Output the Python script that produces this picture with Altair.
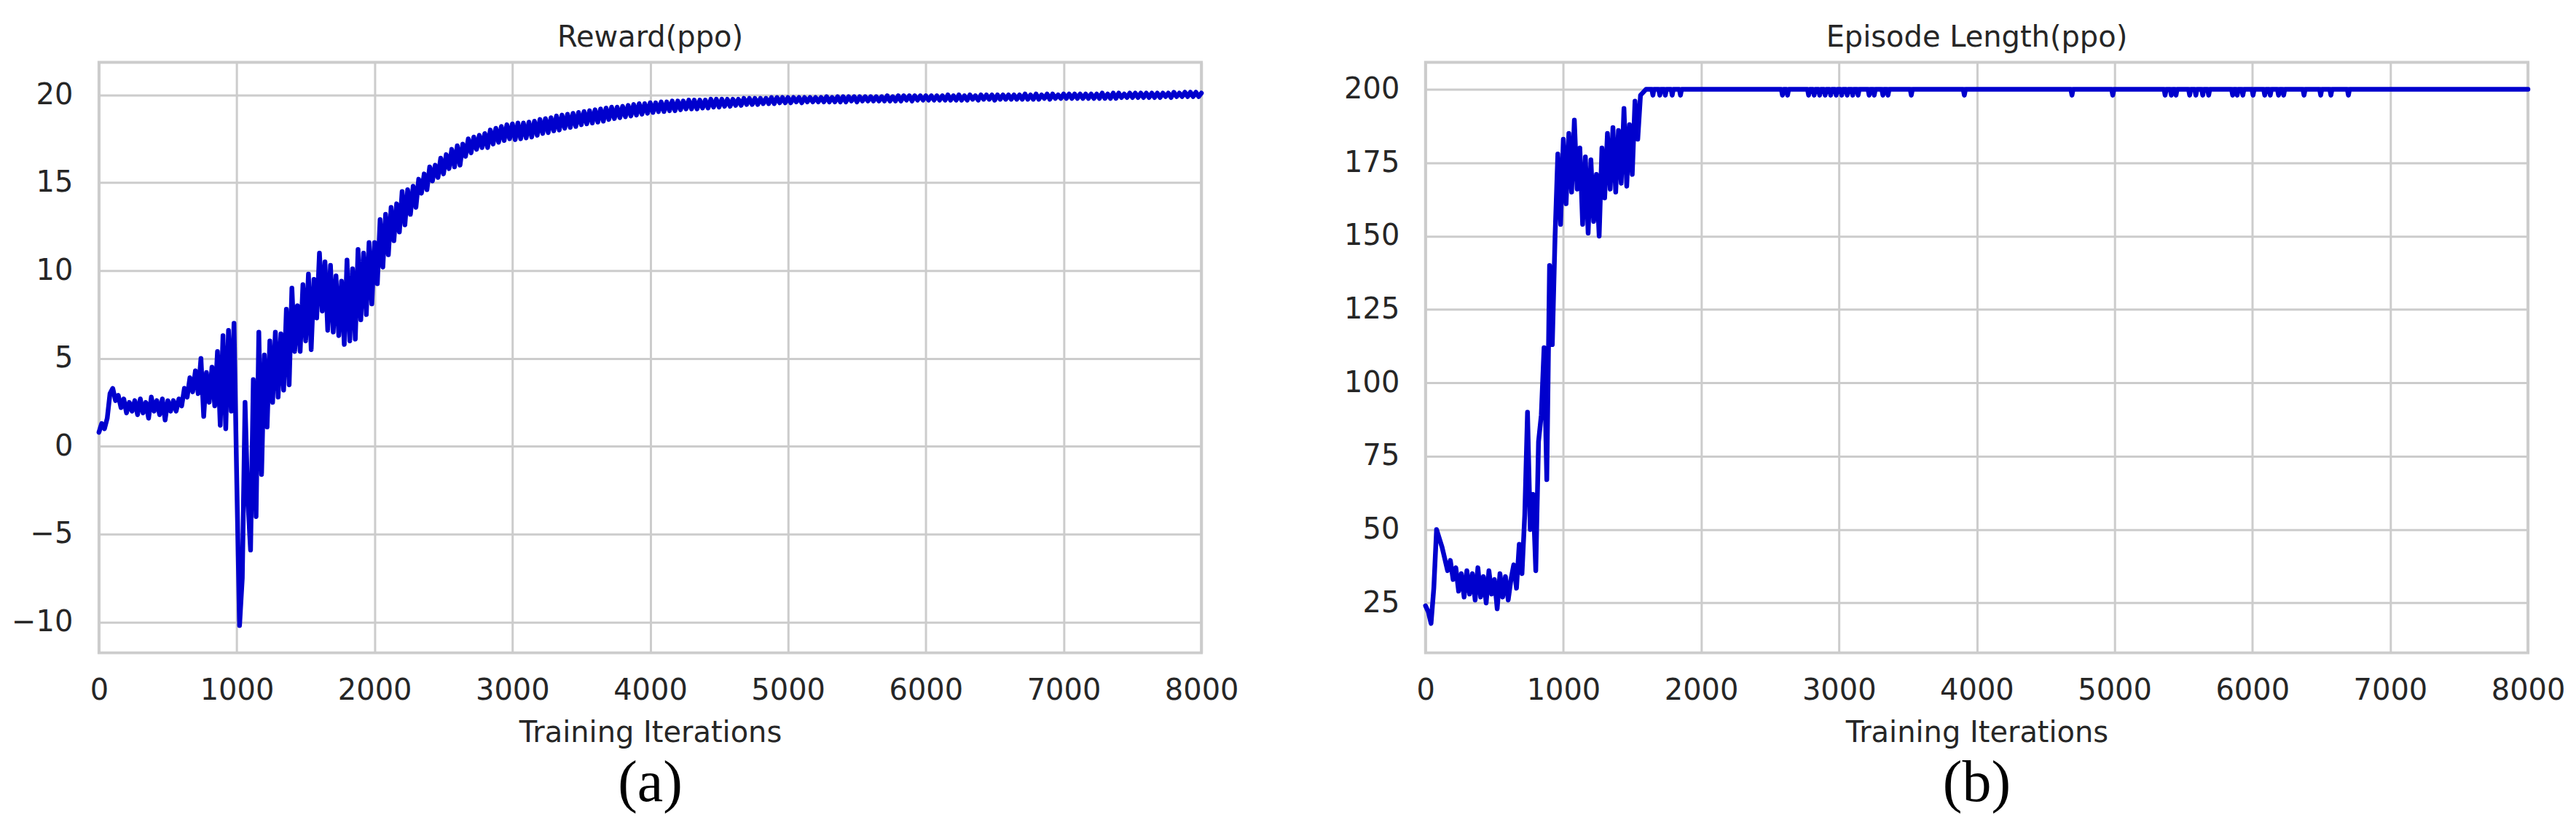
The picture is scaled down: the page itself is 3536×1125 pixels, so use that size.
import altair as alt
import pandas as pd

# ---------------- data ----------------
x_ticks = [0, 1000, 2000, 3000, 4000, 5000, 6000, 7000, 8000]

# Reward(ppo): every 20 iterations from 0 to 2980
reward_early_step = 20
reward_early = [
    0.8, 1.3, 1.0, 1.6, 3.0, 3.3, 2.6, 2.9, 2.2, 2.7,
    1.9, 2.5, 2.0, 2.6, 1.8, 2.7, 1.9, 2.5, 1.6, 2.8,
    2.0, 2.6, 1.8, 2.7, 1.5, 2.6, 2.0, 2.6, 2.0, 2.7,
    2.3, 3.3, 2.8, 3.9, 3.1, 4.3, 3.0, 5.0, 1.7, 4.2,
    2.5, 4.5, 2.3, 5.4, 1.2, 6.3, 1.0, 6.6, 2.0, 7.0,
    -2.0, -10.2, -7.5, 2.5, -3.0, -5.9, 3.8, -4.0, 6.5, -1.6,
    5.2, 1.1, 6.0, 2.5, 6.5, 2.8, 6.4, 3.2, 7.8, 3.5,
    9.0, 5.4, 8.0, 5.4, 9.2, 6.0, 9.8, 5.5, 9.5, 7.3,
    11.0, 7.7, 10.5, 6.6, 10.3, 6.5, 9.7, 6.3, 9.4, 5.8,
    10.6, 6.0, 10.1, 6.1, 11.2, 7.2, 11.0, 7.5, 11.6, 8.1,
    11.6, 9.25, 12.9, 10.2, 13.2, 10.9, 13.6, 11.7, 13.8, 12.2,
    14.5, 12.6, 14.6, 13.2, 14.8, 13.6, 15.2, 14.4, 15.5, 14.6,
    15.9, 15.1, 16.0, 15.3, 16.4, 15.5, 16.6, 15.8, 16.9, 15.9,
    17.1, 16.0, 17.2, 16.5, 17.5, 16.7, 17.6, 16.9, 17.7, 17.0,
    17.8, 17.0, 18.0, 17.2, 18.1, 17.3, 18.2, 17.4, 18.3, 17.5,
]
# Reward(ppo): every 20 iterations from 3000 to 8000
reward_late_start = 3000
reward_late_step = 20
reward_late = [
    18.35, 17.45, 18.4, 17.5, 18.4, 17.55, 18.45, 17.6, 18.5, 17.7,
    18.6, 17.8, 18.65, 17.85, 18.7, 17.95, 18.8, 18.0, 18.85, 18.1,
    18.9, 18.15, 18.95, 18.2, 19.0, 18.3, 19.05, 18.35, 19.1, 18.4,
    19.15, 18.45, 19.2, 18.5, 19.25, 18.6, 19.3, 18.65, 19.3, 18.7,
    19.35, 18.75, 19.4, 18.8, 19.45, 18.85, 19.5, 18.9, 19.5, 18.95,
    19.55, 19.0, 19.55, 19.05, 19.6, 19.05, 19.6, 19.1, 19.65, 19.1,
    19.65, 19.15, 19.65, 19.2, 19.7, 19.2, 19.7, 19.2, 19.7, 19.25,
    19.7, 19.25, 19.75, 19.3, 19.75, 19.3, 19.75, 19.35, 19.75, 19.35,
    19.75, 19.4, 19.75, 19.4, 19.8, 19.45, 19.8, 19.45, 19.8, 19.45,
    19.8, 19.5, 19.8, 19.5, 19.85, 19.5, 19.85, 19.55, 19.85, 19.55,
    19.85, 19.55, 19.85, 19.6, 19.85, 19.55, 19.85, 19.6, 19.85, 19.6,
    19.85, 19.6, 19.85, 19.6, 19.9, 19.6, 19.85, 19.6, 19.9, 19.6,
    19.9, 19.6, 19.9, 19.65, 19.9, 19.6, 19.9, 19.65, 19.9, 19.65,
    19.9, 19.65, 19.9, 19.65, 19.9, 19.65, 19.95, 19.65, 19.9, 19.65,
    19.95, 19.65, 19.95, 19.7, 19.95, 19.65, 19.95, 19.7, 19.95, 19.7,
    19.95, 19.7, 19.95, 19.7, 19.95, 19.7, 19.95, 19.7, 20.0, 19.7,
    19.95, 19.7, 20.0, 19.7, 19.95, 19.7, 20.0, 19.75, 19.95, 19.7,
    20.0, 19.75, 20.0, 19.75, 20.0, 19.7, 20.0, 19.75, 20.0, 19.75,
    20.0, 19.75, 20.0, 19.75, 20.0, 19.75, 20.05, 19.75, 20.0, 19.75,
    20.05, 19.75, 20.0, 19.8, 20.05, 19.75, 20.05, 19.8, 20.0, 19.8,
    20.05, 19.8, 20.05, 19.8, 20.05, 19.8, 20.05, 19.8, 20.05, 19.8,
    20.05, 19.8, 20.05, 19.8, 20.1, 19.8, 20.05, 19.8, 20.1, 19.8,
    20.1, 19.85, 20.05, 19.85, 20.1, 19.85, 20.1, 19.85, 20.1, 19.85,
    20.1, 19.85, 20.1, 19.85, 20.1, 19.85, 20.1, 19.9, 20.1, 19.85,
    20.15, 19.9, 20.1, 19.9, 20.15, 19.9, 20.15, 19.9, 20.15, 19.9,
    20.1,
]
reward_ticks = [-10, -5, 0, 5, 10, 15, 20]

# Episode Length(ppo): every 20 iterations from 0 to 1580
ep_early_step = 20
ep_early = [
    24, 22, 18, 30, 50, 47, 44, 40, 36, 39.5,
    33, 37, 29, 35, 27, 36, 28, 35, 26, 37,
    27, 34, 25, 36, 28, 33, 23, 35, 27, 34,
    26, 33, 38, 30, 45, 35, 55, 90, 50, 62,
    36, 80, 89, 112, 67, 140, 113, 150, 178, 154,
    183, 161, 185, 165, 189.5, 166, 180, 154, 177, 151,
    176, 155, 171, 150, 180, 163, 185, 166, 187, 165,
    186, 168, 193.5, 167, 188, 171, 196, 183, 198, 199,
]
# then a plateau at 200 with short single-sample dips
ep_plateau_start = 1600
ep_plateau = 200
ep_dip_iters = [1650, 1700, 1740, 1790, 1850, 2590, 2627, 2780, 2820, 2860,
                2900, 2940, 2980, 3020, 3060, 3100, 3139, 3219, 3256, 3319,
                3356, 3525, 3910, 4691, 4987, 5367, 5412, 5446, 5545, 5590,
                5640, 5683, 5857, 5890, 5931, 6005, 6090, 6130, 6190, 6227,
                6375, 6496, 6570, 6697]
ep_dip_value = 198
ep_ticks = [25, 50, 75, 100, 125, 150, 175, 200]

# ---------------- tables ----------------
reward_df = pd.DataFrame({
    "iter": [i * reward_early_step for i in range(len(reward_early))]
    + [reward_late_start + i * reward_late_step for i in range(len(reward_late))],
    "value": reward_early + reward_late,
})

ep_iters = [i * ep_early_step for i in range(len(ep_early))] + [ep_plateau_start]
ep_vals = list(ep_early) + [ep_plateau]
for d in ep_dip_iters:
    ep_iters += [d - 8, d, d + 8]
    ep_vals += [ep_plateau, ep_dip_value, ep_plateau]
ep_iters.append(8000)
ep_vals.append(ep_plateau)
ep_df = pd.DataFrame({"iter": ep_iters, "value": ep_vals})

# ---------------- style ----------------
FONT = "DejaVu Sans"
TEXT = "#262626"
GRID = "#cccccc"
LINE = "#0000CD"
W, H = 1515, 811


def panel(df, ydomain, yticks, title, tag):
    line = alt.Chart(df).mark_line(
        color=LINE, strokeWidth=6.5, strokeJoin="round", strokeCap="round"
    ).encode(
        x=alt.X("iter:Q",
                scale=alt.Scale(domain=[0, 8000], nice=False, zero=False),
                axis=alt.Axis(values=x_ticks, title="Training Iterations", format="d")),
        y=alt.Y("value:Q",
                scale=alt.Scale(domain=ydomain, nice=False, zero=False),
                axis=alt.Axis(values=yticks, title=None, format="d")),
        order="iter:Q",
    )
    label = alt.Chart(pd.DataFrame({"tag": [tag]})).mark_text(
        font="Liberation Serif", fontSize=80, color="black",
        baseline="alphabetic", align="center"
    ).encode(x=alt.value(W / 2), y=alt.value(H + 204), text="tag:N")
    return alt.layer(line, label).properties(
        width=W, height=H,
        title=alt.TitleParams(title, offset=14),
    )


left = panel(reward_df, [-11.75, 21.85], reward_ticks, "Reward(ppo)", "(a)")
right = panel(ep_df, [8, 209.2], ep_ticks, "Episode Length(ppo)", "(b)")

chart = alt.hconcat(left, right, spacing=140).configure_view(
    stroke=GRID, strokeWidth=4
).configure_axis(
    grid=True, gridColor=GRID, gridWidth=3, domain=False, ticks=False,
    labelFont=FONT, labelFontSize=40, labelColor=TEXT,
    titleFont=FONT, titleFontSize=40, titleColor=TEXT, titleFontWeight="normal",
    labelFlush=False, labelOverlap=False,
).configure_axisX(labelPadding=32, titlePadding=18).configure_axisY(
    labelPadding=36
).configure_title(
    font=FONT, fontSize=40, color=TEXT, fontWeight="normal", anchor="middle"
).properties(
    background="white",
    padding={"top": 21, "left": 5, "right": 5, "bottom": 5},
)

chart.save("out.html", embed_options={"renderer": "svg", "actions": False})
